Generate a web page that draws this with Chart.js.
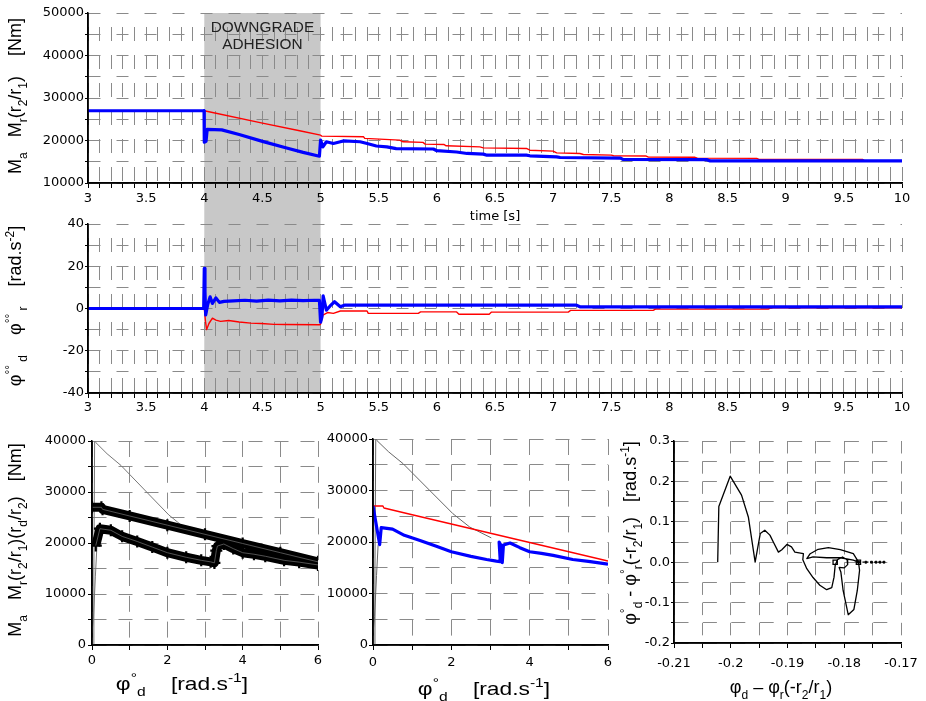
<!DOCTYPE html>
<html><head><meta charset="utf-8">
<script src="https://cdn.jsdelivr.net/npm/chart.js@4/dist/chart.umd.min.js"></script>
<style>
html,body{margin:0;padding:0;background:#fff;}
#wrap{position:relative;width:926px;height:701px;overflow:hidden;background:#fff;}
#wrap canvas{position:absolute;}
</style></head><body>
<div id="wrap">
<canvas id="cA" width="926" height="226" style="left:0px;top:0px"></canvas>
<canvas id="cB" width="926" height="220" style="left:0px;top:200px"></canvas>
<canvas id="cC" width="330" height="281" style="left:0px;top:420px"></canvas>
<canvas id="cD" width="300" height="281" style="left:320px;top:420px"></canvas>
<canvas id="cE" width="311" height="281" style="left:615px;top:420px"></canvas>
</div>
<script>
// ---------------- DATA ----------------
const adhesionWindow = [4, 5];
const annotationLines = ['DOWNGRADE', 'ADHESION'];

// top panel: torque vs time  [t (s), torque (Nm)]
const maTime = [[3,27000],[3.998,27000],[4.0,19600],[4.015,19800],[4.025,22600],[4.15,22500],[4.3,21400],[4.5,19800],[4.7,18300],[4.85,17200],[4.99,16300],[5.0,20100],[5.02,18500],[5.05,19700],[5.11,19300],[5.17,19700],[5.2,19900],[5.34,19700],[5.4,19300],[5.48,18700],[5.57,18500],[5.65,18100],[5.97,18000],[6.0,17600],[6.17,17300],[6.26,16950],[6.4,16800],[6.43,16550],[6.77,16550],[6.8,16400],[7.03,16150],[7.06,16000],[7.58,15850],[7.6,15550],[8.32,15500],[8.35,15200],[10,15200]];
const mrTime = [[3,27000],[4.0,27000],[4.5,24100],[4.82,22300],[5.0,21250],[5.01,21030],[5.37,20870],[5.38,20500],[5.68,20100],[5.71,19700],[5.88,19550],[5.9,19150],[6.06,19070],[6.08,18750],[6.37,18500],[6.4,18270],[6.77,18120],[6.8,17720],[7.0,17500],[7.03,17100],[7.23,16950],[7.26,16700],[7.5,16550],[7.52,16400],[7.8,16350],[7.82,16100],[8.22,16050],[8.24,15850],[8.75,15800],[8.77,15550],[9.66,15550],[9.68,15200],[10,15200]];

// middle panel: angular accelerations vs time [t (s), rad/s^2]
const accD = [[3,0],[3.995,0],[4.0,19],[4.006,8],[4.012,-3],[4.03,2],[4.05,5.5],[4.07,2.4],[4.1,5.0],[4.13,2.9],[4.17,3.4],[4.25,3.6],[4.35,3.9],[4.45,3.5],[4.55,4.0],[4.65,3.6],[4.75,4.0],[4.85,3.7],[4.95,3.9],[4.99,3.8],[5.0,-6.5],[5.012,-4],[5.022,6.0],[5.05,-0.8],[5.08,1.1],[5.12,3.2],[5.17,0.8],[5.21,1.6],[7.2,1.6],[7.23,0.8],[10,0.8]];
const accR = [[3,0],[4.0,0],[4.01,-6],[4.02,-10],[4.04,-7.1],[4.07,-4.6],[4.1,-5.5],[4.14,-6.1],[4.21,-5.7],[4.3,-6.4],[4.4,-6.9],[4.49,-7.1],[4.6,-7.5],[4.7,-7.6],[4.99,-7.7],[5.0,-7.4],[5.02,-3.1],[5.06,-1.9],[5.11,-2.3],[5.17,-1.2],[5.4,-1.2],[5.41,-2.3],[5.84,-2.3],[5.86,-1.6],[6.17,-1.6],[6.19,-2.7],[6.45,-2.7],[6.47,-1.7],[7.13,-1.7],[7.15,-0.9],[7.86,-0.9],[7.88,-0.3],[8.85,-0.3],[8.87,0.3],[10,0.3]];

// bottom panels: torque vs angular speed [rad/s, Nm]
const mrOmega = [[0,27000],[0.25,27000],[0.28,26600],[1,25300],[2,23500],[3,21700],[4,19900],[5,18100],[6,16300]];
const maOmega = [[0,27000],[0.17,19500],[0.21,22800],[0.5,22500],[0.8,21300],[1.2,20300],[1.6,19200],[2.0,18100],[2.5,17200],[2.9,16600],[3.15,16300],[3.25,16200],[3.22,20000],[3.27,19300],[3.3,16000],[3.33,19400],[3.5,19800],[3.75,18900],[4.0,18100],[4.3,17800],[4.6,17400],[5.1,16600],[5.5,16250],[6.0,15700]];
// sampled markers of the actual torque (bottom-left), transient samples excluded
const maMarkers = [[0.1,19500],[0.21,22800],[0.5,22500],[0.8,21300],[1.2,20300],[1.6,19200],[2.0,18100],[2.5,17200],[2.9,16600],[3.15,16300],[3.25,16100],[3.3,18500],[3.33,19400],[3.5,19800],[3.75,18900],[4.0,18100],[4.3,17800],[4.6,17400],[5.1,16600],[5.5,16250],[6.0,15700]];
const limitCurve = [[0.03,0],[0.05,15000],[0.07,40000],[0.1,39700],[0.4,37500],[0.77,35200],[1.45,30000],[2.04,25500],[2.47,22900],[3.02,20800]];
const riseCurve = [[0.0,2300],[0.04,5500],[0.09,13500],[0.13,19300],[0.22,22500]];

// bottom-right: phase plane [rad, rad/s]
const phase = [[-0.2023,0],[-0.2021,0.138],[-0.2001,0.213],[-0.1981,0.166],[-0.1969,0.112],[-0.1957,0.0],[-0.1948,0.071],[-0.1940,0.079],[-0.1931,0.067],[-0.1925,0.050],[-0.1916,0.025],[-0.1910,0.031],[-0.1901,0.044],[-0.1893,0.038],[-0.1887,0.025],[-0.1872,0.021],[-0.1873,0.006],[-0.1866,-0.016],[-0.1855,-0.038],[-0.1843,-0.057],[-0.1831,-0.068],[-0.1822,-0.063],[-0.1818,-0.037],[-0.1816,-0.008],[-0.1812,0.006],[-0.1803,0.013],[-0.1795,0.006],[-0.1794,-0.006],[-0.1800,-0.014],[-0.1809,-0.013],[-0.1806,-0.024],[-0.1802,-0.070],[-0.1793,-0.130],[-0.1783,-0.117],[-0.1777,-0.070],[-0.1773,-0.020],[-0.1775,0.001],[-0.1784,0.021],[-0.1807,0.031],[-0.1828,0.036],[-0.1846,0.032],[-0.1860,0.021],[-0.1866,0.009],[-0.1855,0.013],[-0.1831,0.011],[-0.1807,0.011],[-0.1784,0.005],[-0.1775,0.0]];
const phaseTail = [[-0.1775,0],[-0.1762,0],[-0.1752,0],[-0.1744,0],[-0.1737,0],[-0.1730,0]];
const phaseMarks = [[-0.1816,0],[-0.1775,0]];

// tick labels
const timeMajor = [3,3.5,4,4.5,5,5.5,6,6.5,7,7.5,8,8.5,9,9.5,10];
const timeLabels = ['3','3.5','4','4.5','5','5.5','6','6.5','7','7.5','8','8.5','9','9.5','10'];
const torqueMajor = [10000,20000,30000,40000,50000];
const torqueLabels = ['10000','20000','30000','40000','50000'];
const accMajor = [-40,-20,0,20,40];
const accLabels = ['-40','-20','0','20','40'];
const omegaMajor = [0,2,4,6];
const omegaLabels = ['0','2','4','6'];
const torque2Major = [0,10000,20000,30000,40000];
const torque2Labels = ['0','10000','20000','30000','40000'];
const angleMajor = [-0.21,-0.2,-0.19,-0.18,-0.17];
const angleLabels = ['-0.21','-0.2','-0.19','-0.18','-0.17'];
const rateMajor = [-0.2,-0.1,0,0.1,0.2,0.3];
const rateLabels = ['-0.2','-0.1','0.0','0.1','0.2','0.3'];

// axis titles (rich text: [text, kind])
const titleTopY = [['M'],['a','sub'],['   M'],['r','sub'],['(r'],['2','sub'],['/r'],['1','sub'],[')    [Nm]']];
const titleMidY = [['φ'],['°°','sup'],[' d','sub'],['    φ'],['°°','sup'],[' r','sub'],['    [rad.s'],['-2','sup'],[']']];
const titleBLY = [['M'],['a','sub'],['   M'],['r','sub'],['(r'],['2','sub'],['/r'],['1','sub'],[')(r'],['d','sub'],['/r'],['2','sub'],[')   [Nm]']];
const titleOmegaX = [['φ'],['°','sup'],['d','sub'],['    [rad.s'],['-1','sup'],[']']];
const titleBRY = [['φ'],['°','sup'],['d','sub'],[' - φ'],['°','sup'],['r','sub'],['(-r'],['2','sub'],['/r'],['1','sub'],[')   [rad.s'],['-1','sup'],[']']];
const titleBRX = [['φ'],['d','sub'],[' – φ'],['r','sub'],['(-r'],['2','sub'],['/r'],['1','sub'],[')']];
const timeTitle = 'time [s]';

// ---------------- HELPERS ----------------
const TICK_FONT = {family: "'DejaVu Sans', sans-serif", size: 13};
const TITLE_FAMILY = "'Liberation Sans', Arial, sans-serif";
function steps(min, max, step) {
  const n = Math.round((max - min) / step);
  return Array.from({length: n + 1}, (_, i) => +(min + i * step).toFixed(6));
}
function xy(arr) { return arr.map(p => ({x: p[0], y: p[1]})); }
function lineDs(data, color, width, extra) {
  return Object.assign({data: xy(data), showLine: true, borderColor: color, backgroundColor: color,
    borderWidth: width, pointRadius: 0, pointHoverRadius: 0, fill: false, tension: 0,
    borderJoinStyle: 'round'}, extra || {});
}
function axis(o) {
  const cfg = {
    type: 'linear', position: o.pos, min: o.min, max: o.max,
    afterBuildTicks: s => { s.ticks = o.grid.map(v => ({value: v})); },
    afterFit: s => { if (o.pos === 'left') s.width = o.size; else s.height = o.size; },
    ticks: {autoSkip: false, maxRotation: 0, minRotation: 0, padding: o.pad, color: '#000', font: TICK_FONT,
      callback: v => { const i = o.major.findIndex(m => Math.abs(m - v) < 1e-9); return i >= 0 ? o.labels[i] : ''; }},
    grid: {color: '#8a8a8a', lineWidth: 1, tickColor: '#000', tickLength: o.tickLen, drawTicks: true},
    border: {display: true, color: '#000', width: 1.5, dash: o.dash, dashOffset: o.dashOff || 0},
    title: {display: false}
  };
  if (o.title) cfg.title = {display: true, text: o.title, color: '#000', font: TICK_FONT, padding: {top: 0, bottom: 2}};
  return cfg;
}
function baseOpts(pad, scales) {
  return {responsive: false, animation: false, events: [], layout: {padding: pad},
    plugins: {legend: {display: false}, tooltip: {enabled: false}}, scales};
}
function drawRich(ctx, segs, x, y, o) {
  const size = o.size, sx = o.sx || 1;
  ctx.save();
  ctx.translate(x, y);
  ctx.scale(sx, 1);
  if (o.rotate) ctx.rotate(-Math.PI / 2);
  ctx.fillStyle = o.color || '#000';
  ctx.textBaseline = 'alphabetic';
  ctx.textAlign = 'left';
  const parts = segs.map(s => {
    const kind = s[1] || 'n';
    const fs = kind === 'n' ? size : Math.round(size * 0.68);
    ctx.font = fs + 'px ' + TITLE_FAMILY;
    return {t: s[0], kind, fs, w: ctx.measureText(s[0]).width};
  });
  const total = parts.reduce((a, p) => a + p.w, 0);
  let cx = -total / 2;
  const base = size * 0.36;
  for (const p of parts) {
    ctx.font = p.fs + 'px ' + TITLE_FAMILY;
    const dy = p.kind === 'sub' ? size * 0.3 : p.kind === 'sup' ? -size * 0.42 : 0;
    ctx.fillText(p.t, cx, base + dy);
    cx += p.w;
  }
  ctx.restore();
}
function textPlugin(items) {
  return {id: 'richText', afterDraw(chart) {
    const ctx = chart.ctx;
    items.forEach(it => {
      const x = typeof it.x === 'function' ? it.x(chart) : it.x;
      drawRich(ctx, it.segs, x, it.y, it);
    });
  }};
}
// solid left / bottom axis lines over the chart-area edges
const axisLinePlugin = {id: 'axisLines', afterDraw(chart) {
  const {ctx, chartArea: ca} = chart;
  ctx.save();
  ctx.strokeStyle = '#000'; ctx.lineWidth = 1.5; ctx.setLineDash([]);
  ctx.beginPath();
  ctx.moveTo(ca.left, ca.top); ctx.lineTo(ca.left, ca.bottom); ctx.lineTo(ca.right, ca.bottom);
  ctx.stroke();
  ctx.restore();
}};
function shadePlugin(yTop, yBot) {
  return {id: 'shade', beforeDraw(chart) {
    const {ctx, chartArea: ca, scales: {x}} = chart;
    const x1 = x.getPixelForValue(adhesionWindow[0]), x2 = x.getPixelForValue(adhesionWindow[1]);
    const y1 = yTop(ca), y2 = yBot(ca);
    ctx.save(); ctx.fillStyle = '#c8c8c8'; ctx.fillRect(x1, y1, x2 - x1, y2 - y1); ctx.restore();
  }};
}

// ---------------- CHART A: torque vs time ----------------
new Chart(document.getElementById('cA'), {
  type: 'scatter',
  data: {datasets: [lineDs(maTime, '#0000ff', 3.2), lineDs(mrTime, '#ff0000', 1.4)]},
  options: baseOpts({top: 13, right: 24, left: 0, bottom: 0}, {
    x: axis({pos: 'bottom', min: 3, max: 10, grid: steps(3, 10, 0.1), major: timeMajor, labels: timeLabels,
      size: 43, tickLen: 5, pad: 3, dash: [14, 14], dashOff: 14, title: timeTitle}),
    y: axis({pos: 'left', min: 10000, max: 50000, grid: steps(10000, 50000, 5000), major: torqueMajor, labels: torqueLabels,
      size: 88, tickLen: 3, pad: 1, dash: [12, 16]})
  }),
  plugins: [shadePlugin(ca => ca.top, ca => 205), axisLinePlugin, textPlugin([
    {segs: titleTopY, x: 15, y: 96, size: 18, rotate: true},
    {segs: [[annotationLines[0]]], x: c => c.scales.x.getPixelForValue(4.5), y: 27, size: 14, sx: 1.1, color: '#222'},
    {segs: [[annotationLines[1]]], x: c => c.scales.x.getPixelForValue(4.5), y: 44, size: 14, sx: 1.1, color: '#222'}
  ])]
});

// ---------------- CHART B: accelerations vs time ----------------
new Chart(document.getElementById('cB'), {
  type: 'scatter',
  data: {datasets: [lineDs(accD, '#0000ff', 3.2), lineDs(accR, '#ff0000', 1.4)]},
  options: baseOpts({top: 24, right: 24, left: 0, bottom: 0}, {
    x: axis({pos: 'bottom', min: 3, max: 10, grid: steps(3, 10, 0.1), major: timeMajor, labels: timeLabels,
      size: 27, tickLen: 5, pad: 2, dash: [14, 14], dashOff: 14}),
    y: axis({pos: 'left', min: -40, max: 40, grid: steps(-40, 40, 10), major: accMajor, labels: accLabels,
      size: 88, tickLen: 3, pad: 1, dash: [12, 16]})
  }),
  plugins: [shadePlugin(ca => 5, ca => ca.bottom), axisLinePlugin, textPlugin([
    {segs: titleMidY, x: 15, y: 106, size: 18, rotate: true}
  ])]
});

// ---------------- CHART C: bottom-left ----------------
const bandOpts = {pointStyle: 'cross', pointRadius: 6, pointBorderWidth: 2.2, pointBorderColor: '#000', pointBackgroundColor: '#000'};
new Chart(document.getElementById('cC'), {
  type: 'scatter',
  data: {datasets: [
    lineDs(mrOmega, '#666', 0.8),
    lineDs(maMarkers, '#666', 0.8),
    lineDs(mrOmega, '#000', 9, bandOpts),
    lineDs(maMarkers, '#000', 9, bandOpts),
    lineDs(limitCurve, '#777', 1),
    lineDs(riseCurve, '#777', 1)
  ]},
  options: baseOpts({top: 21, right: 12, left: 0, bottom: 0}, {
    x: axis({pos: 'bottom', min: 0, max: 6, grid: steps(0, 6, 1), major: omegaMajor, labels: omegaLabels,
      size: 56, tickLen: 5, pad: 3, dash: [16, 9.8]}),
    y: axis({pos: 'left', min: 0, max: 40000, grid: steps(0, 40000, 5000), major: torque2Major, labels: torque2Labels,
      size: 92, tickLen: 4, pad: 2, dash: [14, 12]})
  }),
  plugins: [axisLinePlugin, textPlugin([
    {segs: titleBLY, x: 15, y: 120, size: 18, rotate: true},
    {segs: titleOmegaX, x: 182, y: 263, size: 19, sx: 1.2}
  ])]
});

// ---------------- CHART D: bottom-middle ----------------
new Chart(document.getElementById('cD'), {
  type: 'scatter',
  data: {datasets: [
    lineDs(maOmega, '#0000ff', 3.2),
    lineDs(mrOmega, '#ff0000', 1.4),
    lineDs(limitCurve, '#666', 1),
    lineDs(riseCurve, '#666', 1)
  ]},
  options: baseOpts({top: 19, right: 12, left: 0, bottom: 0}, {
    x: axis({pos: 'bottom', min: 0, max: 6, grid: steps(0, 6, 1), major: omegaMajor, labels: omegaLabels,
      size: 56, tickLen: 5, pad: 5, dash: [16, 9.8]}),
    y: axis({pos: 'left', min: 0, max: 40000, grid: steps(0, 40000, 5000), major: torque2Major, labels: torque2Labels,
      size: 53, tickLen: 4, pad: 1, dash: [14, 12]})
  }),
  plugins: [axisLinePlugin, textPlugin([
    {segs: titleOmegaX, x: 164, y: 268, size: 19, sx: 1.2}
  ])]
});

// ---------------- CHART E: bottom-right phase plane ----------------
new Chart(document.getElementById('cE'), {
  type: 'scatter',
  data: {datasets: [
    lineDs(phaseMarks, '#000', 0, {showLine: false, pointStyle: 'rect', pointRadius: 3, pointBorderWidth: 1.3, pointBorderColor: '#000', pointBackgroundColor: 'rgba(0,0,0,0)'}),
    lineDs(phase, '#000', 1.3),
    lineDs(phaseTail, '#000', 1.3, {borderDash: [2, 2], pointStyle: 'rect', pointRadius: 1.3, pointBorderWidth: 1, pointBorderColor: '#000', pointBackgroundColor: '#000'})
  ]},
  options: baseOpts({top: 21, right: 25, left: 0, bottom: 0}, {
    x: axis({pos: 'bottom', min: -0.21, max: -0.17, grid: steps(-0.21, -0.17, 0.005), major: angleMajor, labels: angleLabels,
      size: 58, tickLen: 5, pad: 8, dash: [12.5, 7.7]}),
    y: axis({pos: 'left', min: -0.2, max: 0.3, grid: steps(-0.2, 0.3, 0.05), major: rateMajor, labels: rateLabels,
      size: 59, tickLen: 3, pad: 1, dash: [14, 14.4]})
  }),
  plugins: [axisLinePlugin, textPlugin([
    {segs: titleBRY, x: 15, y: 113, size: 18, rotate: true},
    {segs: titleBRX, x: 166, y: 267, size: 18}
  ])]
});
</script>
</body></html>
